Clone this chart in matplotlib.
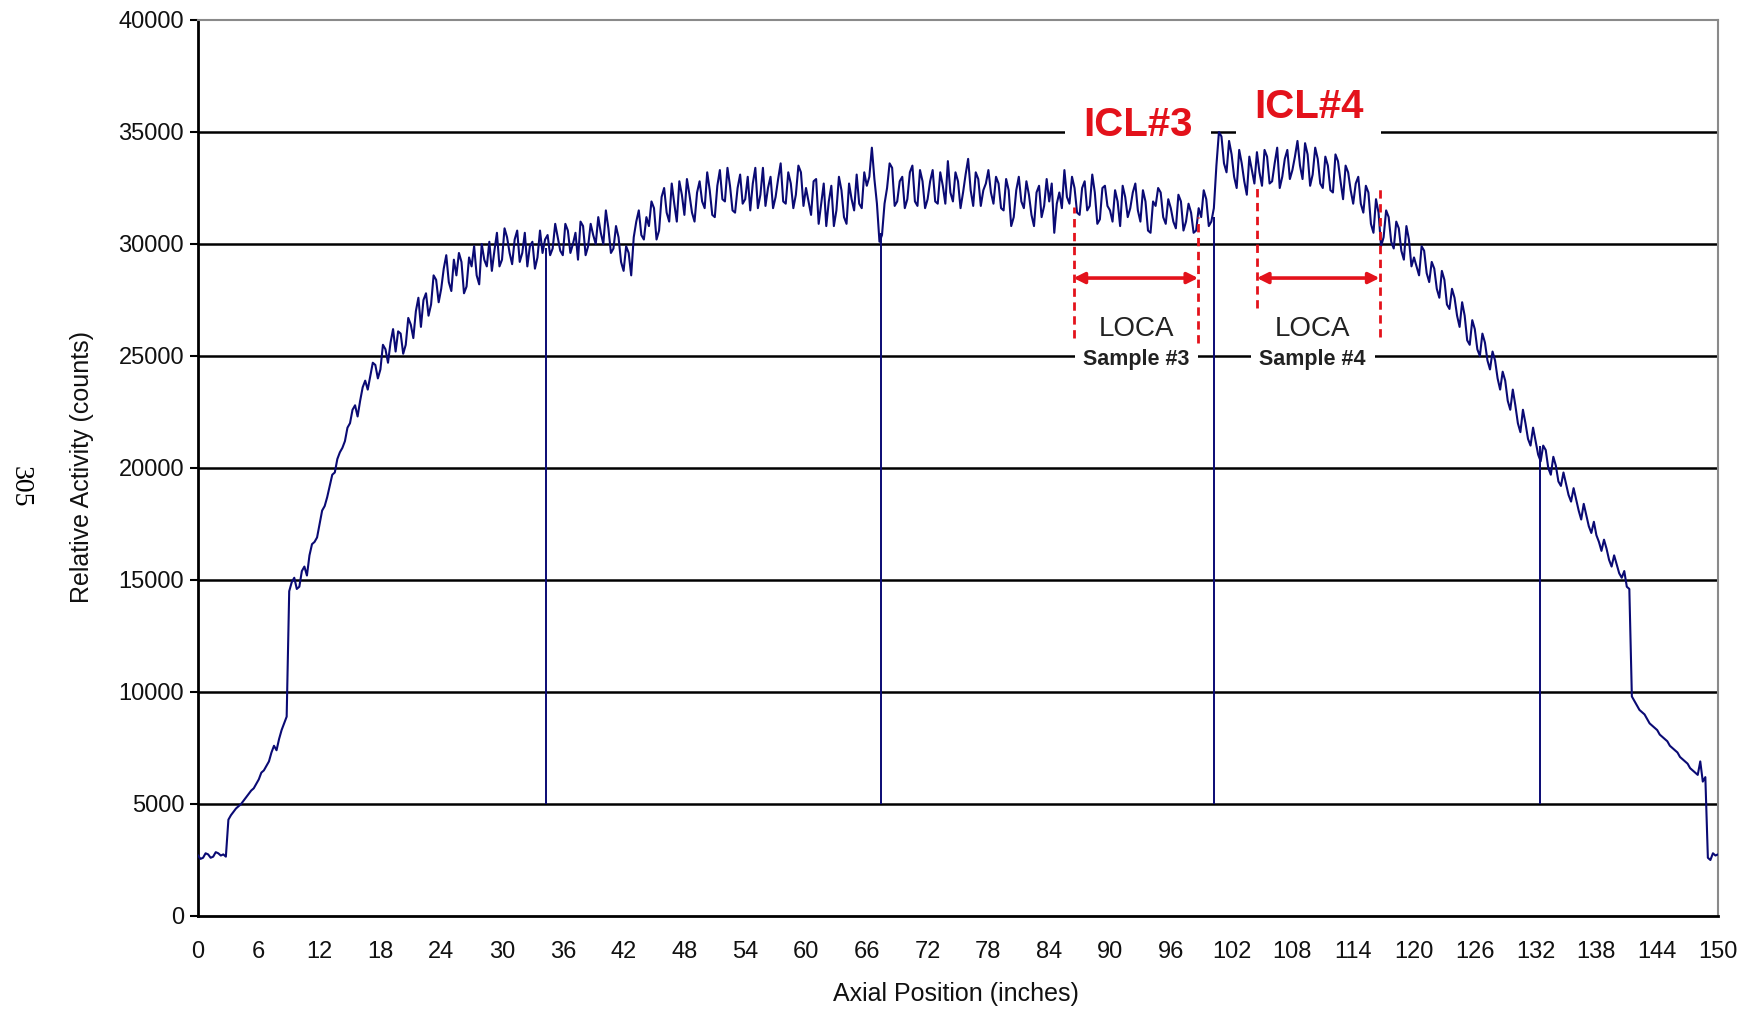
import numpy as np
import matplotlib
matplotlib.use("Agg")
import matplotlib.pyplot as plt

# ---------------- data ----------------
# samples at whole and half inches (0, 0.5, ..., 150)
axial_pos = np.arange(0, 150.5, 0.5)
activity = [
    2700, 2600, 2750, 2650, 2800, 2750, 4300, 4650, 4900, 5150, 5450, 5700,
    6100, 6500, 6900, 7600, 7900, 8600, 14500, 15100, 14700, 15600, 16100, 16700,
    17500, 18300, 19200, 19800, 20700, 21200, 22000, 22800, 23000, 23900, 24100, 24600,
    24400, 25300, 25600, 25200, 26000, 25500, 26400, 27000, 26300, 27800, 27300, 28400,
    28000, 29500, 27900, 28600, 29200, 28100, 29000, 28600, 30000, 29000, 28800, 30500,
    29300, 30300, 29100, 30600, 29600, 29000, 30100, 29400, 29600, 30400, 29800, 30300,
    29500, 30600, 30000, 29300, 30800, 29900, 30400, 31200, 30000, 30700, 29800, 30300,
    28800, 29600, 30300, 31500, 30200, 30800, 31600, 30600, 32500, 31000, 31800, 32800,
    31300, 32200, 31000, 32800, 31600, 32400, 31200, 33300, 31900, 32600, 31400, 33100,
    32000, 31500, 33400, 32200, 31700, 33000, 32100, 33600, 31800, 32700, 32200, 33200,
    32500, 31300, 32900, 31800, 30800, 32600, 31500, 32400, 30900, 32000, 33100, 31600,
    32600, 34300, 31800, 30400, 32500, 33400, 31900, 33000, 32000, 33500, 31700, 32800,
    32000, 33300, 31800, 32600, 33700, 31900, 32800, 32300, 33800, 31700, 32900, 32400,
    33300, 31800, 32700, 31500, 32400, 31200, 33000, 31600, 32200, 30800, 32600, 31700,
    31900, 30500, 32300, 33300, 31800, 32500, 31300, 32800, 31700, 32300, 31100, 32600,
    31500, 32400, 30800, 32100, 31600, 32700, 31000, 31900, 30500, 31700, 32300, 30900,
    31600, 30700, 31900, 31000, 31400, 30600, 31200, 32000, 31000, 33500, 34800, 33200,
    34000, 32500, 33600, 32200, 33300, 34100, 32600, 33900, 32800, 34300, 33000, 34200,
    33300, 34600, 32900, 34000, 33100, 33800, 32500, 33500, 32300, 33700, 32000, 33200,
    31800, 33000, 31400, 32300, 30500, 31400, 30300, 31200, 29800, 30700, 29300, 30200,
    29400, 28600, 29700, 28300, 28900, 27600, 28400, 27100, 27600, 26300, 26800, 25500,
    26200, 25000, 25600, 24400, 24800, 23500, 23900, 22600, 22800, 21600, 22000, 21000,
    21200, 20300, 20800, 19700, 20100, 19200, 19300, 18500, 18600, 17700, 17900, 17100,
    17000, 16300, 16400, 15600, 15700, 15100, 14700, 9800, 9400, 9100, 8800, 8500,
    8300, 8000, 7800, 7500, 7300, 7000, 6800, 6500, 6300, 6000, 2600, 2800,
    2750,
]
# samples at quarter inches (0.25, 0.75, ..., 149.75)
axial_pos_q = np.arange(0.25, 150, 0.5)
activity_q = [
    2550, 2800, 2600, 2850, 2700, 2650, 4500, 4800, 5000, 5300, 5600, 5900,
    6400, 6700, 7300, 7400, 8300, 8900, 14900, 14600, 15400, 15200, 16600, 16900,
    18100, 18700, 19700, 20400, 20900, 21800, 22600, 22300, 23600, 23500, 24700, 24000,
    25500, 24700, 26200, 26100, 25100, 26700, 25800, 27600, 27500, 26800, 28600, 27400,
    28900, 28300, 29300, 29600, 27800, 29400, 29900, 28200, 29300, 30100, 29700, 29000,
    30700, 29600, 30200, 29200, 30500, 29900, 28900, 30600, 30200, 29500, 30900, 29700,
    30900, 29600, 30500, 31000, 29500, 30900, 30000, 30500, 31500, 29600, 30800, 29200,
    29900, 28600, 31000, 30400, 31200, 31900, 30200, 32100, 31400, 32700, 31000, 32200,
    32900, 31400, 32300, 31900, 33200, 31300, 32600, 32000, 33400, 31500, 32500, 31800,
    33000, 32700, 31600, 33400, 32500, 31600, 32900, 31900, 33200, 31600, 33500, 31700,
    31900, 32800, 30900, 32700, 31900, 30800, 33000, 31200, 32700, 31500, 31800, 33200,
    33000, 32900, 30100, 31800, 33600, 31700, 32800, 31600, 33200, 31900, 33300, 31600,
    32800, 31900, 33200, 31800, 32300, 33200, 31600, 33100, 32400, 33200, 31700, 32700,
    32300, 33000, 31600, 32900, 30800, 32400, 31900, 32800, 31300, 32300, 31200, 32900,
    32700, 31800, 31600, 32100, 33000, 31400, 32500, 31500, 33100, 30900, 32500, 31700,
    31000, 31900, 32600, 31200, 32300, 31500, 32400, 30600, 31900, 32500, 31200, 32000,
    31000, 32200, 30600, 31800, 30500, 31600, 32400, 30800, 31600, 35000, 33600, 34600,
    33000, 34200, 32800, 33900, 32700, 33200, 34200, 32700, 33600, 32500, 33800, 32900,
    33900, 33500, 34500, 32600, 34300, 32700, 33900, 32400, 34000, 32800, 33500, 32400,
    32700, 31800, 32600, 30900, 32000, 29900, 31500, 30100, 31000, 29700, 30800, 29000,
    29000, 29900, 28700, 29200, 28000, 28800, 27300, 28000, 26800, 27400, 25700, 26600,
    25300, 26000, 24800, 25200, 24000, 24300, 23000, 23500, 22000, 22600, 21300, 21800,
    20600, 21000, 20000, 20500, 19400, 19800, 18800, 19100, 18100, 18400, 17400, 17600,
    16700, 16800, 15900, 16100, 15300, 15400, 14600, 9600, 9200, 9000, 8600, 8400,
    8100, 7900, 7600, 7400, 7100, 6900, 6600, 6400, 6900, 6200, 2500, 2700,
]

# spacer-gap dips (single-sample drops)
dip_x = [34.3, 67.4, 100.3, 132.4]
dip_top = [29800, 30500, 31200, 21000]
dip_bottom = [5000, 5000, 5000, 5000]

x_ticks = list(range(0, 151, 6))
y_ticks = list(range(0, 40001, 5000))

# annotation data
icl_labels = ["ICL#3", "ICL#4"]
icl_x = [92.8, 109.6]
icl_y = [35300, 36100]
loca_x = [92.6, 110.0]
loca_y = [26200, 26200]
sample_labels = ["Sample #3", "Sample #4"]
sample_y = [24850, 24850]
bracket_left = [86.4, 104.5]
bracket_right = [98.7, 116.6]
bracket_left_top = [31650, 32540]
bracket_left_bot = [25800, 27140]
bracket_right_top = [31200, 32540]
bracket_right_bot = [25580, 25850]
arrow_y = [28480, 28480]

# merge the two sample sets in position order
x_all = np.concatenate([axial_pos, axial_pos_q])
y_all = np.concatenate([np.asarray(activity, float), np.asarray(activity_q, float)])
order = np.argsort(x_all, kind="stable")
x_all, y_all = x_all[order], y_all[order]

# ---------------- plot ----------------
W, H = 1747, 1010
fig = plt.figure(figsize=(W / 100, H / 100), dpi=100)
left, right, top, bottom = 198, 1718, 20, 916
ax = fig.add_axes([left / W, 1 - bottom / H, (right - left) / W, (bottom - top) / H])

sans = "Liberation Sans"
line_col = "#0a0a74"
red = "#e3121b"

for yv in y_ticks[1:-1]:
    ax.axhline(yv, color="black", lw=1.8, zorder=1)

ax.plot(x_all, y_all, color=line_col, lw=1.5, zorder=5)
ax.vlines(dip_x, dip_bottom, dip_top, color=line_col, lw=1.4, zorder=5)

ax.set_xlim(0, 150)
ax.set_ylim(0, 40000)
ax.set_xticks(x_ticks)
ax.set_yticks(y_ticks)
ax.set_xticklabels([str(v) for v in x_ticks], fontfamily=sans, fontsize=17)
ax.set_yticklabels([str(v) for v in y_ticks], fontfamily=sans, fontsize=17)
ax.tick_params(axis="x", length=0, pad=18, colors="#111111")
ax.tick_params(axis="y", direction="out", length=6, width=1.5, pad=4, labelcolor="#111111")

for s in ["left", "bottom"]:
    ax.spines[s].set_color("black")
    ax.spines[s].set_linewidth(2.0)
for s in ["top", "right"]:
    ax.spines[s].set_color("#8a8a8a")
    ax.spines[s].set_linewidth(1.5)

ax.set_xlabel("Axial Position (inches)", fontfamily=sans, fontsize=18, va="center",
              color="#111111")
ax.xaxis.set_label_coords((956 - left) / (right - left), -(994 - bottom) / (bottom - top))
ax.set_ylabel("Relative Activity (counts)", fontfamily=sans, fontsize=18, va="center",
              color="#111111")
ax.yaxis.set_label_coords(-(left - 82) / (right - left), (bottom - 467) / (bottom - top))

# ICL labels
for lab, xx, yy in zip(icl_labels, icl_x, icl_y):
    ax.text(xx, yy, lab, color=red, fontfamily=sans, fontweight="bold", fontsize=29,
            ha="center", va="center", zorder=3,
            bbox=dict(boxstyle="square,pad=0.45", fc="white", ec="none"))

# LOCA labels
for xx, yy in zip(loca_x, loca_y):
    ax.text(xx, yy, "LOCA", color="#222222", fontfamily=sans, fontsize=20,
            ha="center", va="center", zorder=3)
for lab, xx, yy in zip(sample_labels, loca_x, sample_y):
    ax.text(xx, yy, lab, color="#222222", fontfamily=sans, fontweight="bold", fontsize=15.5,
            ha="center", va="center", zorder=3,
            bbox=dict(boxstyle="square,pad=0.4", fc="white", ec="none"))

# red dashed brackets and arrows
for i in range(2):
    ax.plot([bracket_left[i], bracket_left[i]], [bracket_left_bot[i], bracket_left_top[i]],
            color=red, lw=2.0, ls=(0, (3, 2)), zorder=6)
    ax.plot([bracket_right[i], bracket_right[i]], [bracket_right_bot[i], bracket_right_top[i]],
            color=red, lw=2.0, ls=(0, (3, 2)), zorder=6)
    ax.annotate("", xy=(bracket_right[i], arrow_y[i]), xytext=(bracket_left[i], arrow_y[i]),
                arrowprops=dict(arrowstyle="<|-|>", color=red, lw=2.6, mutation_scale=16,
                                shrinkA=0, shrinkB=0), zorder=6)

# page number
fig.text(20 / W, 1 - 487 / H, "305", rotation=-90, fontfamily="Liberation Serif",
         fontsize=20, ha="center", va="center")

fig.savefig("out.png", dpi=100, facecolor="white")
